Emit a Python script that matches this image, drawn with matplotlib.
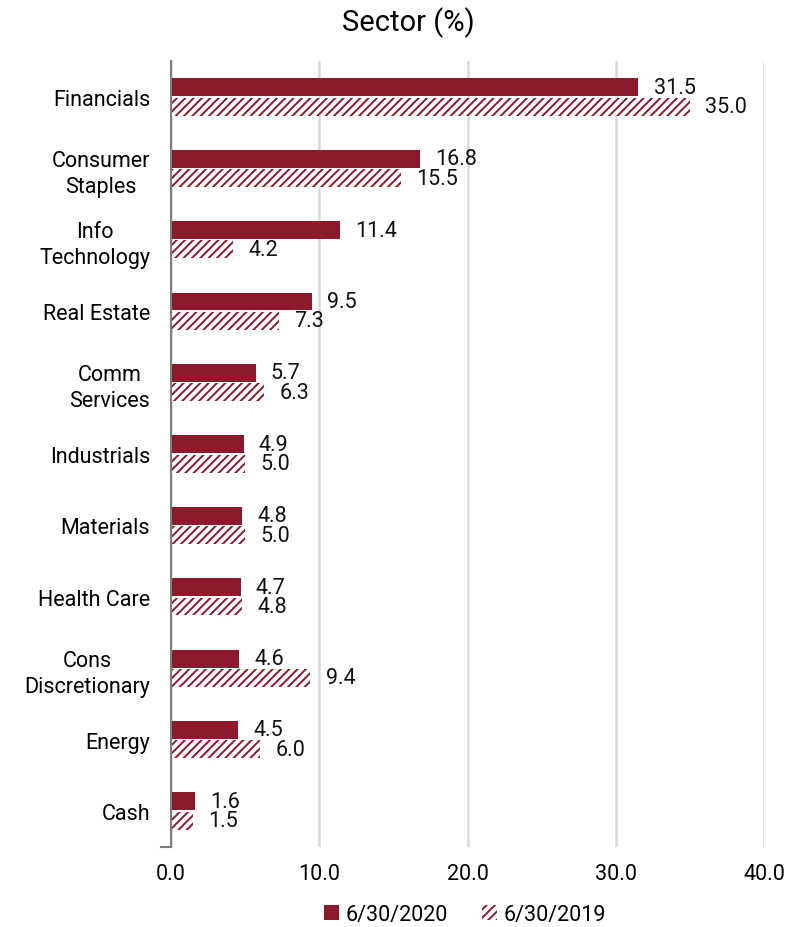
import matplotlib
matplotlib.use("Agg")
import matplotlib.pyplot as plt
import numpy as np

plt.rcParams['font.family'] = ['Roboto', 'DejaVu Sans']
plt.rcParams['hatch.linewidth'] = 1.4

sectors = ["Financials", "Consumer\nStaples", "Info\nTechnology", "Real Estate",
           "Comm\nServices", "Industrials", "Materials", "Health Care",
           "Cons\nDiscretionary", "Energy", "Cash"]
vals_2020 = [31.5, 16.8, 11.4, 9.5, 5.7, 4.9, 4.8, 4.7, 4.6, 4.5, 1.6]
vals_2019 = [35.0, 15.5, 4.2, 7.3, 6.3, 5.0, 5.0, 4.8, 9.4, 6.0, 1.5]
series_labels = ["6/30/2020", "6/30/2019"]
xticks = [0, 10, 20, 30, 40]

color = "#8c1a2c"
fs = 15.5

fig = plt.figure(figsize=(7.88, 9.28), dpi=100)
ax = fig.add_axes([0.217, 0.0865, 0.753, 0.8464])

y = np.arange(len(sectors))
h = 0.25
gap = 0.02
b1 = ax.barh(y - h / 2 - gap / 2, vals_2020, height=h, color=color,
             label=series_labels[0], zorder=3)
b2 = ax.barh(y + h / 2 + gap / 2, vals_2019, height=h, color="white",
             edgecolor=color, linewidth=0, hatch="////",
             label=series_labels[1], zorder=3)

for bars, vals in ((b1, vals_2020), (b2, vals_2019)):
    for rect, v in zip(bars, vals):
        ax.annotate(f"{v:.1f}", (v, rect.get_y() + rect.get_height() / 2),
                    xytext=(11, 0), textcoords="offset points",
                    va="center", ha="left", fontsize=fs, color="#111111")

ax.set_ylim(len(sectors) - 0.5, -0.5)
ax.set_xlim(0, 40)
ax.set_yticks(y)
ax.set_yticklabels(sectors, fontsize=fs, multialignment="center",
                   linespacing=1.3)
ax.set_xticks(xticks)
ax.set_xticklabels([f"{t:.1f}" for t in xticks], fontsize=fs)
ax.tick_params(axis="y", length=0, pad=15)
ax.tick_params(axis="x", length=0, pad=12)

ax.grid(axis="x", color="#d9d9d9", linewidth=1.8, zorder=0)
for s in ["top", "right", "bottom"]:
    ax.spines[s].set_visible(False)
ax.spines["left"].set_color("#7f7f7f")
ax.spines["left"].set_linewidth(1.5)
ax.spines["left"].set_zorder(4)
ax.plot([-0.7, 0], [len(sectors) - 0.5, len(sectors) - 0.5], color="#7f7f7f",
        lw=1.5, clip_on=False, zorder=4)

fig.text(0.518, 0.976, "Sector (%)", ha="center", va="center", fontsize=21)

fig.legend(handles=[b1, b2], labels=series_labels, loc="center",
           bbox_to_anchor=(0.59, 0.013), ncol=2, frameon=False, fontsize=fs,
           handlelength=0.7, handleheight=0.7, handletextpad=0.3,
           columnspacing=1.6)

fig.savefig("out.png", dpi=100)
